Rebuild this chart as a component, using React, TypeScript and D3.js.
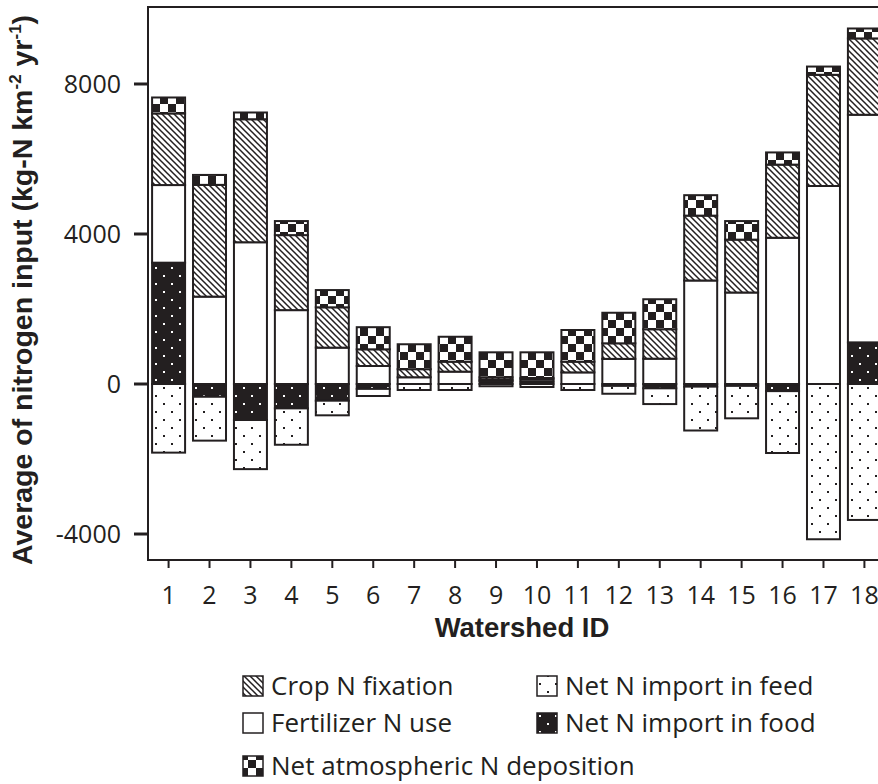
import React from "react";
import * as d3 from "d3";

// Watershed IDs along the x axis
const watersheds = ["1", "2", "3", "4", "5", "6", "7", "8", "9", "10", "11", "12", "13", "14", "15", "16", "17", "18"];

// Nitrogen input components (kg-N km-2 yr-1)
const foodImport = [3235, -340, -960, -650, -445, -130, 0, 0, 80, 60, 0, -50, -115, -70, -50, -190, 0, 1110];
const fertilizer = [2070, 2330, 3780, 1970, 970, 480, 180, 330, 40, 60, 310, 670, 675, 2760, 2440, 3900, 5280, 6070];
const cropFixation = [1910, 2980, 3280, 2000, 1075, 445, 215, 265, 60, 40, 285, 415, 785, 1730, 1410, 1950, 2965, 2035];
const deposition = [425, 265, 180, 375, 460, 590, 665, 665, 665, 685, 845, 815, 800, 545, 495, 325, 220, 265];
const feedImport = [-1830, -1170, -1310, -970, -390, -190, -160, -160, -60, -80, -160, -210, -420, -1170, -865, -1650, -4140, -3625];

const yTicks = [-4000, 0, 4000, 8000];

const seriesKeys = ["food", "fertilizer", "crop", "deposition", "feed"];
const fills: Record<string, string> = {
  food: "url(#pat-food)",
  fertilizer: "#ffffff",
  crop: "url(#pat-crop)",
  deposition: "url(#pat-dep)",
  feed: "url(#pat-feed)",
};

const legendItems = [
  { key: "crop", label: "Crop N fixation", col: 0, row: 0 },
  { key: "feed", label: "Net N import in feed", col: 1, row: 0 },
  { key: "fertilizer", label: "Fertilizer N use", col: 0, row: 1 },
  { key: "food", label: "Net N import in food", col: 1, row: 1 },
  { key: "deposition", label: "Net atmospheric N deposition", col: 0, row: 2 },
];

const INK = "#231f20";
const W = 878;
const H = 784;
const plot = { left: 148, top: 7, right: 885, bottom: 560 };

export default function App() {
  const rows = watersheds.map((id, i) => ({
    id,
    food: foodImport[i],
    fertilizer: fertilizer[i],
    crop: cropFixation[i],
    deposition: deposition[i],
    feed: feedImport[i],
  }));

  const stacked = d3.stack<any>().keys(seriesKeys).offset(d3.stackOffsetDiverging)(rows);

  const x = d3
    .scaleBand<string>()
    .domain(watersheds)
    .range([plot.left, plot.right])
    .paddingInner(0.194)
    .paddingOuter(0.1);

  const y = d3.scaleLinear().domain([-4693, 10053]).range([plot.bottom, plot.top]);

  const legendCols = [243, 537];
  const legendRows = [686, 723, 766];

  return (
    <div style={{ position: "absolute", left: 0, top: 0 }}>
      <svg width={W} height={H} style={{ display: "block", background: "#fff" }}>
        <defs>
          <pattern id="pat-crop" width={6} height={6} patternUnits="userSpaceOnUse">
            <rect width={6} height={6} fill="#fff" />
            <path d="M0,0L6,6M-1,5L1,7M5,-1L7,1" stroke={INK} strokeWidth={1.5} />
          </pattern>
          <pattern id="pat-dep" width={16} height={16} patternUnits="userSpaceOnUse">
            <rect width={16} height={16} fill="#fff" />
            <rect x={0} y={0} width={8} height={8} fill={INK} />
            <rect x={8} y={8} width={8} height={8} fill={INK} />
          </pattern>
          <pattern id="pat-feed" width={16} height={16} patternUnits="userSpaceOnUse">
            <rect width={16} height={16} fill="#fff" />
            <rect x={3} y={3} width={2} height={2} fill={INK} />
            <rect x={11} y={11} width={2} height={2} fill={INK} />
          </pattern>
          <pattern id="pat-food" width={16} height={16} patternUnits="userSpaceOnUse">
            <rect width={16} height={16} fill={INK} />
            <rect x={3} y={3} width={2} height={2} fill="#fff" />
            <rect x={11} y={11} width={2} height={2} fill="#fff" />
          </pattern>
        </defs>

        {/* stacked bars */}
        {stacked.map((layer) => (
          <g key={layer.key}>
            {layer.map((seg, i) => {
              const y0 = y(seg[0]);
              const y1 = y(seg[1]);
              const top = Math.min(y0, y1);
              const h = Math.abs(y1 - y0);
              if (h < 0.5) return null;
              return (
                <rect
                  key={i}
                  x={x(watersheds[i])}
                  y={top}
                  width={x.bandwidth()}
                  height={h}
                  fill={fills[layer.key]}
                  stroke={INK}
                  strokeWidth={2}
                />
              );
            })}
          </g>
        ))}

        {/* frame */}
        <rect
          x={plot.left}
          y={plot.top}
          width={plot.right - plot.left}
          height={plot.bottom - plot.top}
          fill="none"
          stroke={INK}
          strokeWidth={2}
        />

        {/* y axis */}
        {yTicks.map((t) => (
          <g key={t}>
            <line x1={134} x2={plot.left} y1={y(t)} y2={y(t)} stroke={INK} strokeWidth={3} />
            <text
              x={121}
              y={y(t)}
              dy="0.36em"
              textAnchor="end"
              fontFamily="'Open Sans', sans-serif"
              fontSize={25}
              fill={INK}
            >
              {t}
            </text>
          </g>
        ))}

        {/* x axis */}
        {watersheds.map((id) => {
          const cx = (x(id) as number) + x.bandwidth() / 2;
          return (
            <g key={id}>
              <line x1={cx} x2={cx} y1={plot.bottom} y2={plot.bottom + 8} stroke={INK} strokeWidth={2} />
              <text
                x={cx}
                y={604}
                textAnchor="middle"
                fontFamily="'Open Sans', sans-serif"
                fontSize={25}
                fill={INK}
              >
                {id}
              </text>
            </g>
          );
        })}

        <text
          x={522}
          y={637}
          textAnchor="middle"
          fontFamily="'Liberation Sans', Arial, sans-serif"
          fontWeight="bold"
          fontSize={27.5}
          fill={INK}
        >
          Watershed ID
        </text>

        <text
          transform={`translate(32, 290) rotate(-90)`}
          textAnchor="middle"
          fontFamily="'Liberation Sans', Arial, sans-serif"
          fontWeight="bold"
          fontSize={28.5}
          fill={INK}
        >
          Average of nitrogen input (kg-N km
          <tspan fontSize={17} dy={-11}>-2</tspan>
          <tspan dy={11}> yr</tspan>
          <tspan fontSize={17} dy={-11}>-1</tspan>
          <tspan dy={11}>)</tspan>
        </text>

        {/* legend */}
        {legendItems.map((item) => {
          const lx = legendCols[item.col];
          const ly = legendRows[item.row];
          return (
            <g key={item.key}>
              <rect
                x={lx}
                y={ly - 10}
                width={20}
                height={20}
                fill={fills[item.key]}
                stroke={INK}
                strokeWidth={1.5}
              />
              <text
                x={lx + 28}
                y={ly}
                dy="0.36em"
                fontFamily="'Open Sans', sans-serif"
                fontSize={26}
                fill={INK}
              >
                {item.label}
              </text>
            </g>
          );
        })}
      </svg>
    </div>
  );
}
